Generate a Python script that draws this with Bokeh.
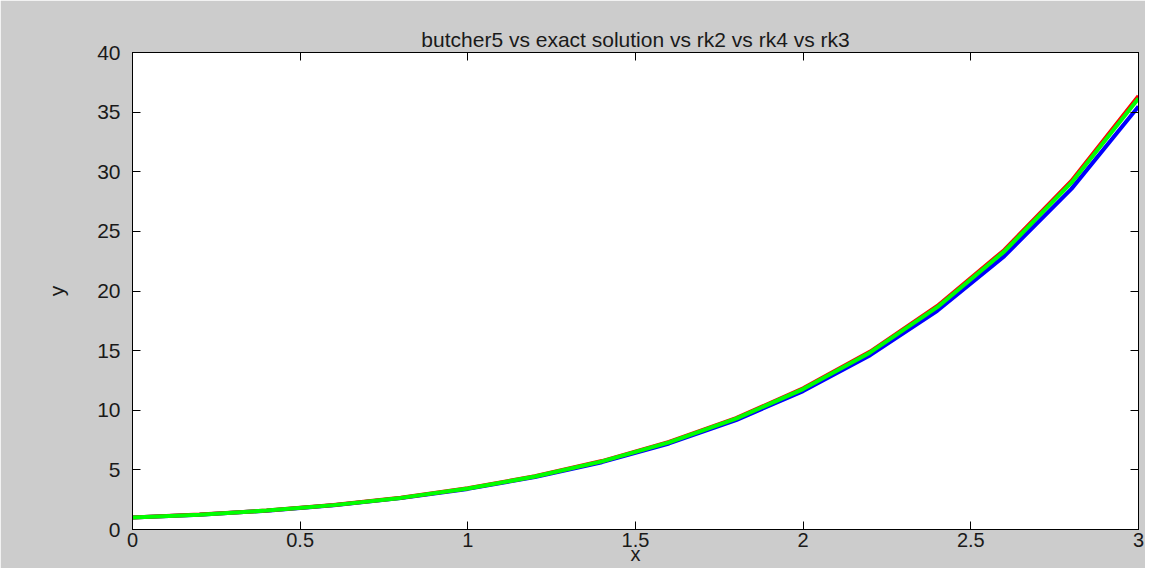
from bokeh.plotting import figure
from bokeh.models import Range1d, FixedTicker, LinearAxis, CustomJSTickFormatter
from bokeh.embed import file_html
from bokeh.resources import INLINE

# ---- data ----
x_vals = [0.0, 0.2, 0.4, 0.6, 0.8, 1.0, 1.2, 1.4, 1.6, 1.8, 2.0, 2.2, 2.4, 2.6, 2.8, 3.0]
butcher5 = [1.0, 1.249, 1.591, 2.054, 2.664, 3.454, 4.462, 5.739, 7.343, 9.346,
            11.837, 14.924, 18.740, 23.444, 29.235, 36.35]
rk2 = [1.0, 1.240, 1.577, 2.032, 2.631, 3.405, 4.395, 5.645, 7.215, 9.175,
       11.609, 14.623, 18.344, 22.928, 28.564, 35.48]
rk3 = [1.0, 1.243, 1.584, 2.044, 2.651, 3.436, 4.440, 5.710, 7.305, 9.298,
       11.776, 14.847, 18.642, 23.322, 29.082, 36.14]
x_ticks = [0, 0.5, 1, 1.5, 2, 2.5, 3]
y_ticks = [0, 5, 10, 15, 20, 25, 30, 35, 40]

GRAY = "#cccccc"
FONT = "Liberation Sans"
TXT = "#1a1a1a"

p = figure(width=1145, height=568, output_backend="svg", toolbar_location=None,
           x_range=Range1d(0, 3), y_range=Range1d(0, 40),
           title="butcher5 vs exact solution vs rk2 vs rk4 vs rk3",
           min_border_left=132, min_border_right=7, min_border_top=52, min_border_bottom=39)

p.background_fill_color = "white"
p.border_fill_color = GRAY
p.outline_line_color = "black"
p.outline_line_width = 1
p.grid.visible = False

p.title.align = "center"
p.title.text_font = FONT
p.title.text_font_size = "21px"
p.title.text_font_style = "normal"
p.title.text_color = TXT
p.title.standoff = 4

fmt = CustomJSTickFormatter(code="return tick.toString();")
blank = CustomJSTickFormatter(code="return '';")

for ax, ticks in ((p.xaxis[0], x_ticks), (p.yaxis[0], y_ticks)):
    ax.ticker = FixedTicker(ticks=ticks)
    ax.formatter = fmt
    ax.major_tick_in = 8
    ax.major_tick_out = 0
    ax.minor_tick_line_color = None
    ax.axis_line_color = "black"
    ax.major_tick_line_color = "black"
    ax.major_label_text_font = FONT
    ax.major_label_text_font_size = "21px"
    ax.major_label_text_color = TXT
    ax.axis_label_text_font = FONT
    ax.axis_label_text_font_size = "21px"
    ax.axis_label_text_font_style = "normal"
    ax.axis_label_text_color = TXT

p.xaxis[0].axis_label = "x"
p.xaxis[0].major_label_text_font_size = "20px"
p.xaxis[0].axis_label_text_font_size = "20px"
p.xaxis[0].major_label_standoff = 3
p.xaxis[0].axis_label_standoff = -7
p.yaxis[0].axis_label = "y"
p.yaxis[0].major_label_standoff = 12
p.yaxis[0].axis_label_standoff = 26

for loc, ticks in (("right", y_ticks), ("above", x_ticks)):
    ax = LinearAxis(ticker=FixedTicker(ticks=ticks), formatter=blank)
    ax.major_tick_in = 8
    ax.major_tick_out = 0
    ax.minor_tick_line_color = None
    ax.major_label_standoff = 0
    ax.axis_line_color = "black"
    ax.major_tick_line_color = "black"
    p.add_layout(ax, loc)

p.line(x_vals, rk2, line_color="#0000ff", line_width=4)
p.line(x_vals, butcher5, line_color="#ff0000", line_width=4)
p.line(x_vals, rk3, line_color="#00ff00", line_width=4)

open("out.html", "w").write(file_html(p, INLINE))
